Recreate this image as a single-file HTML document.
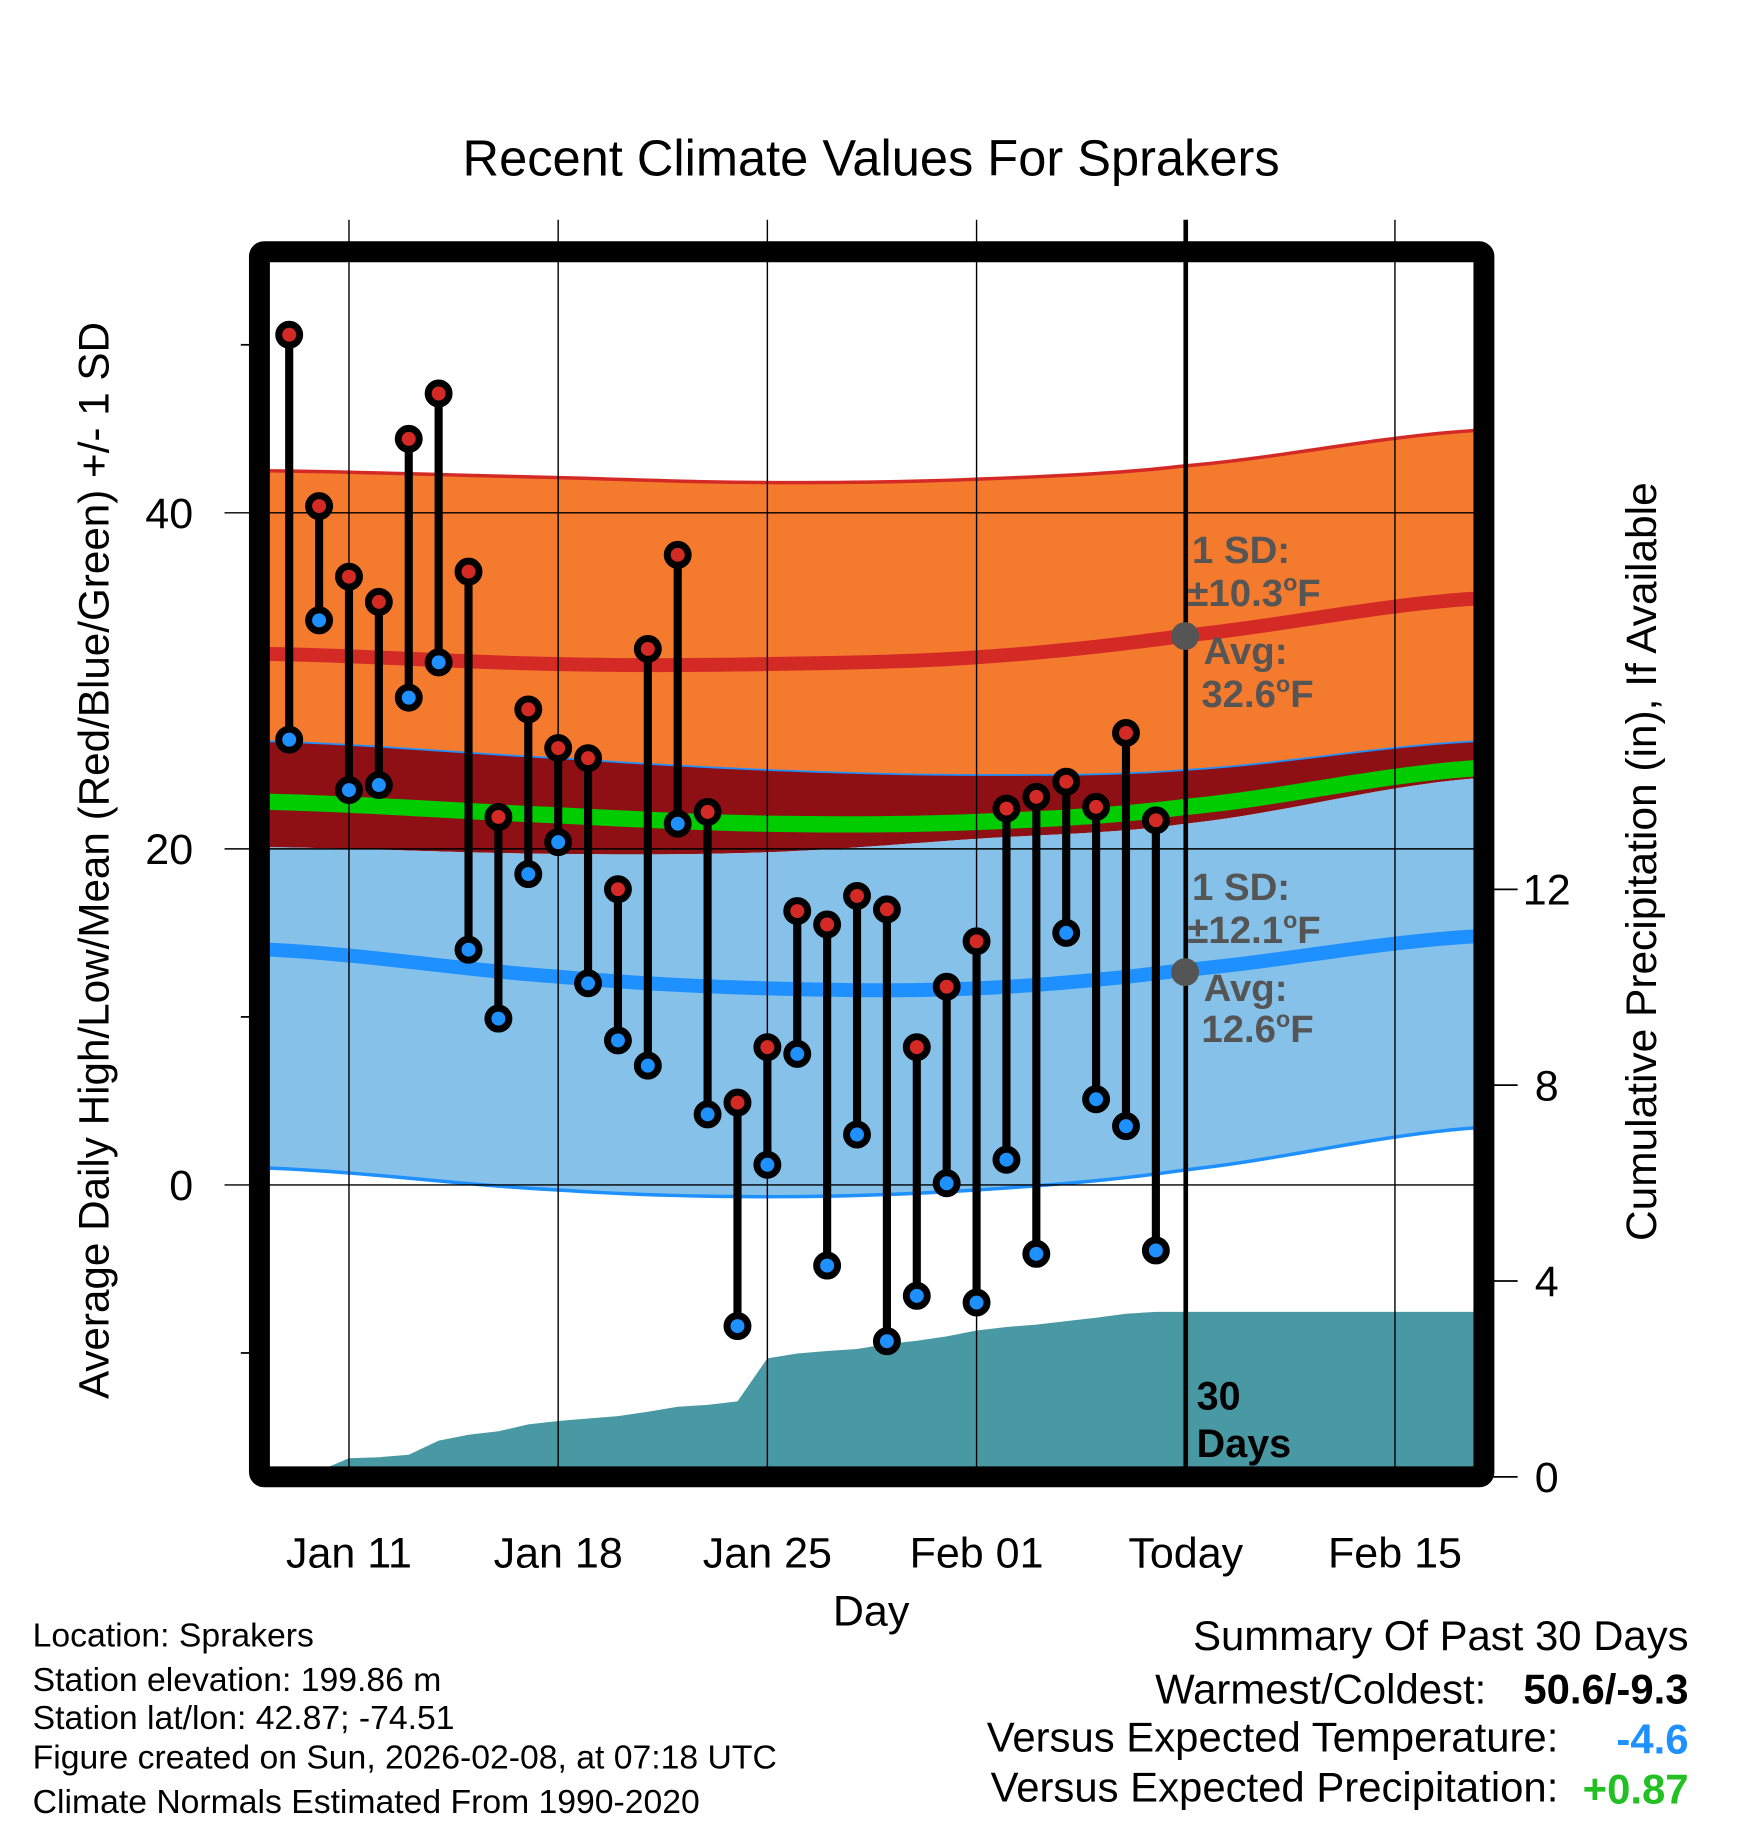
<!DOCTYPE html>
<html><head><meta charset="utf-8"><style>
html,body{margin:0;padding:0;background:#fff}
svg{display:block}
text{font-family:"Liberation Sans",Arial,sans-serif}
</style></head><body>
<svg id="chart" width="1748" height="1828" viewBox="0 0 1503 1572" xmlns="http://www.w3.org/2000/svg">
<defs><clipPath id="pc"><rect x="232" y="223" width="1036" height="1037"/></clipPath></defs>
<g transform="translate(0,2)">
<g id="bands" clip-path="url(#pc)"></g>
<g id="precip" clip-path="url(#pc)"></g>
<g id="grid"></g>
<g id="marks"></g>
<rect x="223" y="214.5" width="1053" height="1053.5" fill="none" stroke="#000" stroke-width="18" rx="4"/>
<g fill="#555" font-weight="bold" font-size="33">
<text x="1025" y="482">1 SD:</text>
<text x="1021" y="519">±10.3<tspan font-size="20" dy="-13">o</tspan><tspan dy="13">F</tspan></text>
<text x="1035" y="569">Avg:</text>
<text x="1033" y="606">32.6<tspan font-size="20" dy="-13">o</tspan><tspan dy="13">F</tspan></text>
<circle cx="1019" cy="545" r="12"/>
</g>
<g fill="#555" font-weight="bold" font-size="33">
<text x="1025" y="772">1 SD:</text>
<text x="1021" y="809">±12.1<tspan font-size="20" dy="-13">o</tspan><tspan dy="13">F</tspan></text>
<text x="1035" y="859">Avg:</text>
<text x="1033" y="894">12.6<tspan font-size="20" dy="-13">o</tspan><tspan dy="13">F</tspan></text>
<circle cx="1019" cy="834" r="12"/>
</g>
<text x="1029" y="1210" font-size="34" font-weight="bold">30</text>
<text x="1029" y="1251" font-size="34" font-weight="bold">Days</text>
</g>
<text x="749" y="151" font-size="43.5" text-anchor="middle">Recent Climate Values For Sprakers</text>
<text x="749" y="1398" font-size="37" text-anchor="middle">Day</text>
<text transform="translate(93,740) rotate(-90)" font-size="36.3" text-anchor="middle">Average Daily High/Low/Mean (Red/Blue/Green) +/- 1 SD</text>
<text transform="translate(1424,741) rotate(-90)" font-size="36.5" text-anchor="middle">Cumulative Precipitation (in), If Available</text>
<g font-size="29">
<text x="28" y="1416">Location: Sprakers</text>
<text x="28" y="1454">Station elevation: 199.86 m</text>
<text x="28" y="1487">Station lat/lon: 42.87; -74.51</text>
<text x="28" y="1521">Figure created on Sun, 2026-02-08, at 07:18 UTC</text>
<text x="28" y="1559">Climate Normals Estimated From 1990-2020</text>
</g>
<g font-size="36">
<text x="1452" y="1419" text-anchor="end">Summary Of Past 30 Days</text>
<text x="1278" y="1465" text-anchor="end">Warmest/Coldest:</text>
<text x="1452" y="1465" text-anchor="end" font-weight="bold">50.6/-9.3</text>
<text x="1340" y="1506" text-anchor="end">Versus Expected Temperature:</text>
<text x="1452" y="1508" text-anchor="end" font-weight="bold" fill="#1e90ff">-4.6</text>
<text x="1340" y="1549" text-anchor="end">Versus Expected Precipitation:</text>
<text x="1452" y="1551" text-anchor="end" font-weight="bold" fill="#22c022">+0.87</text>
</g>
</svg>
<script>
// day offsets relative to Jan 11
const dataDays = [-2,-1,0,1,2,3,4,5,6,7,8,9,10,11,12,13,14,15,16,17,18,19,20,21,22,23,24,25,26,27];
const highs = [50.6,40.4,36.2,34.7,44.4,47.1,36.5,21.9,28.3,26.0,25.4,17.6,31.9,37.5,22.2,4.9,8.2,16.3,15.5,17.2,16.4,8.2,11.8,14.5,22.4,23.1,24.0,22.5,26.9,21.7];
const lows = [26.5,33.6,23.5,23.8,29.0,31.1,14.0,9.9,18.5,20.4,12.0,8.6,7.1,21.5,4.2,-8.4,1.2,7.8,-4.8,3.0,-9.3,-6.6,0.1,-7.0,1.5,-4.1,15.0,5.1,3.5,-3.9];
const precipCum = [0,0.12,0.38,0.4,0.45,0.74,0.86,0.93,1.07,1.14,1.19,1.24,1.33,1.43,1.47,1.54,2.42,2.52,2.57,2.61,2.71,2.78,2.87,2.99,3.06,3.11,3.18,3.25,3.33,3.37];
const normDays = [-2.65,7,14,21,28,37.7];
const sdHighTop = [42.5,42.1,41.8,42.0,42.8,44.9];
const highMean = [31.6,31.0,31.0,31.4,32.7,34.9];
const sdLowTop = [26.4,25.4,24.7,24.4,24.7,26.4];
const meanTemp = [22.8,22.0,21.5,21.6,22.5,24.8];
const sdHighBot = [20.1,19.7,19.8,20.6,21.5,24.2];
const lowMean = [14.0,12.4,11.7,11.7,12.8,14.8];
const sdLowBot = [1.0,-0.3,-0.7,-0.3,0.9,3.4];
const xTickDays = [0,7,14,21,28,35];
const xTickLabels = ["Jan 11","Jan 18","Jan 25","Feb 01","Today","Feb 15"];
const yTicks = [0,20,40];
const yMinor = [-10,10,50];
const pTicks = [0,4,8,12];

const NS="http://www.w3.org/2000/svg";
const xS=d=>300+d*25.7, yS=v=>1017-v*14.45, pS=p=>1268-p*42.1;
function mk(parent,tag,attrs){const e=document.createElementNS(NS,tag);for(const k in attrs)e.setAttribute(k,attrs[k]);document.getElementById(parent).appendChild(e);return e;}
function interp(arr,d){const n=normDays.length;let i=0;while(i<n-2&&d>normDays[i+1])i++;
 const a=normDays[i],b=normDays[i+1];const t=(d-a)/(b-a);
 const p0=arr[Math.max(i-1,0)],p1=arr[i],p2=arr[i+1],p3=arr[Math.min(i+2,n-1)];
 const t2=t*t,t3=t2*t;return 0.5*((2*p1)+(-p0+p2)*t+(2*p0-5*p1+4*p2-p3)*t2+(-p0+3*p1-3*p2+p3)*t3);}
function pts(arr){const r=[];const end=normDays[normDays.length-1]+1;for(let d=normDays[0]-0.5;d<=end;d+=0.5)r.push([xS(d),yS(interp(arr,d))]);return r;}
function band(top,bot,fill,name){const a=pts(top),b=pts(bot).reverse();const e=mk('bands','path',{d:'M'+a.concat(b).map(p=>p.join(',')).join('L')+'Z',fill:fill});

}
function line(arr,stroke,w,name){const e=mk('bands','path',{d:'M'+pts(arr).map(p=>p.join(',')).join('L'),fill:'none',stroke:stroke,'stroke-width':w});

}
band(sdHighTop,sdLowTop,'#f47a2e','high-sd-band');
band(sdLowTop,sdHighBot,'#8e1015','overlap-band');
band(sdHighBot,sdLowBot,'#85c1e8','low-sd-band');
line(sdHighTop,'#d42a26',3,'high-sd-top-line');
line(sdLowTop,'#1e90ff',1.5,'low-sd-top-line');
line(sdLowBot,'#1e90ff',3,'low-sd-bottom-line');
line(highMean,'#d42a26',12,'high-mean-line');
line(meanTemp,'#00cc00',14,'mean-temp-line');
line(lowMean,'#1e90ff',12,'low-mean-line');
// precipitation
{let d='M'+xS(dataDays[0])+','+pS(0);dataDays.forEach((dd,i)=>{d+='L'+xS(dd)+','+pS(precipCum[i]);});
 const last=precipCum[precipCum.length-1];d+='L'+xS(28)+','+pS(last)+'L'+xS(39)+','+pS(last)+'L'+xS(39)+','+pS(0)+'Z';
 const e=mk('precip','path',{d:d,fill:'#4899a3'});
 
 }
// grid
xTickDays.forEach((d,i)=>{const today=xTickLabels[i]==="Today";
 const g=mk('grid','line',{x1:xS(d),x2:xS(d),y1:187,y2:today?1260:1268,stroke:'#000','stroke-width':today?4:1.2});
 
 
 const t=mk('grid','text',{x:xS(d),y:1346,'font-size':37,'text-anchor':'middle'});t.textContent=xTickLabels[i];
 
 });
yTicks.forEach(v=>{const g=mk('grid','line',{x1:193,x2:1268,y1:yS(v),y2:yS(v),stroke:'#000','stroke-width':1.2});
 
 
 const t=mk('grid','text',{x:166,y:yS(v)+13,'font-size':37,'text-anchor':'end'});t.textContent=v;
 
 });
yMinor.forEach(v=>{const g=mk('grid','line',{x1:207,x2:215,y1:yS(v),y2:yS(v),stroke:'#000','stroke-width':1.5});
 
 });
pTicks.forEach(p=>{const g=mk('grid','line',{x1:1284,x2:1305,y1:pS(p),y2:pS(p),stroke:'#000','stroke-width':1.5});
 
 
 const t=mk('grid','text',{x:1330,y:pS(p)+13,'font-size':37,'text-anchor':'middle'});t.textContent=p;
 
 });
// daily marks
dataDays.forEach((d,i)=>{const x=xS(d);
 const s=mk('marks','line',{x1:x,x2:x,y1:yS(highs[i]),y2:yS(lows[i]),stroke:'#000','stroke-width':7});
 
 
 [[highs[i],'#d42a26','high-marker'],[lows[i],'#1e90ff','low-marker']].forEach(([v,c,n])=>{
  const o=mk('marks','circle',{cx:x,cy:yS(v),r:9,fill:c,stroke:'#000','stroke-width':6});
  
  });});
</script>
</body></html>
